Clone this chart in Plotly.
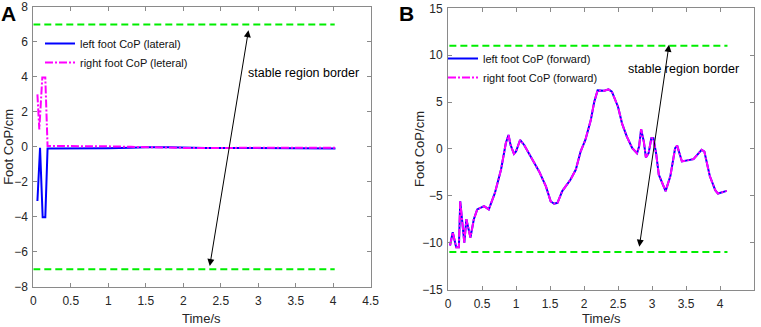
import plotly.graph_objects as go

# ---------------- data ----------------
# Panel A: lateral foot CoP
t_left_lat = [0.055, 0.09, 0.125, 0.16, 0.19, 0.5, 1.0, 1.3, 1.5, 1.8, 2.0, 2.3, 2.6, 3.0, 3.5, 4.03]
left_lat = [-3.1, -0.05, -4.03, -4.03, -0.1, -0.1, -0.08, -0.05, -0.02, -0.02, -0.05, -0.06, -0.06, -0.08, -0.1, -0.1]
t_right_lat = [0.055, 0.08, 0.12, 0.16, 0.19, 0.5, 1.0, 1.3, 1.6, 2.0, 2.5, 3.0, 3.5, 4.03]
right_lat = [3.0, 1.0, 3.97, 3.97, 0.05, 0.05, 0.03, 0.0, -0.04, -0.06, -0.06, -0.05, -0.05, -0.05]
border_a = 7
border_a_t = [0.0, 4.02]

# Panel B: forward foot CoP
t_fwd = [0.03, 0.07, 0.12, 0.16, 0.18, 0.24, 0.27, 0.33, 0.38, 0.43, 0.53, 0.60, 0.69, 0.78,
         0.85, 0.89, 0.92, 0.97, 1.00, 1.06, 1.12, 1.22, 1.34, 1.44, 1.51, 1.56, 1.61, 1.68,
         1.80, 1.88, 1.95, 2.02, 2.10, 2.15, 2.20, 2.30, 2.36, 2.41, 2.50, 2.56, 2.63, 2.71,
         2.78, 2.81, 2.84, 2.88, 2.91, 2.95, 2.99, 3.02, 3.06, 3.10, 3.13, 3.20, 3.27, 3.31,
         3.34, 3.37, 3.44, 3.61, 3.73, 3.77, 3.85, 3.93, 3.97, 4.10]
left_fwd = [-10.3, -8.9, -10.5, -10.5, -5.6, -10.0, -7.5, -9.45, -7.5, -6.45, -6.1, -6.45, -4.7, -2.2,
            0.6, 1.48, 0.42, -0.53, -0.28, 0.95, 0.42, -0.8, -2.4, -4.0, -5.6, -5.85, -5.75, -4.5,
            -3.3, -2.2, -0.28, 0.95, 3.07, 5.0, 6.24, 6.2, 6.35, 6.1, 4.5, 2.7, 1.3, 0.07,
            -0.46, 0.25, 2.1, 0.77, -0.9, -0.46, 1.13, 1.13, -0.46, -2.75, -3.3, -4.5, -2.9, -1.2,
            0.07, 0.35, -1.34, -1.09, -0.1, -0.28, -2.9, -4.4, -4.76, -4.48]
right_fwd = [-10.3, -8.9, -10.5, -10.5, -5.6, -10.0, -7.5, -9.45, -7.5, -6.45, -6.1, -6.45, -4.7, -2.2,
             0.6, 1.48, 0.42, -0.53, -0.28, 0.95, 0.42, -0.8, -2.4, -4.0, -5.6, -5.85, -5.75, -4.5,
             -3.3, -2.2, -0.28, 0.95, 3.07, 5.0, 6.24, 6.2, 6.35, 6.1, 4.5, 2.7, 1.3, 0.07,
             -0.46, 0.25, 2.1, 0.77, -0.9, -0.46, 1.13, 1.13, -0.46, -2.75, -3.3, -4.5, -2.9, -1.2,
             0.07, 0.35, -1.34, -1.09, -0.1, -0.28, -2.9, -4.4, -4.76, -4.48]
border_b = 11
border_b_t = [0.02, 4.11]

x_ticks = [0, 0.5, 1, 1.5, 2, 2.5, 3, 3.5, 4, 4.5]
x_ticktext = ["0", "0.5", "1", "1.5", "2", "2.5", "3", "3.5", "4", "4.5"]
y_ticks_a = [-8, -6, -4, -2, 0, 2, 4, 6, 8]
y_ticks_b = [-15, -10, -5, 0, 5, 10, 15]

# arrows (tip positions, data units)
arrow_a = dict(top=(2.87, 6.67), bottom=(2.35, -6.9), label=(3.61, 4.2))
arrow_b = dict(top=(3.25, 11.1), bottom=(2.81, -10.6), label=(3.46, 8.5))

# ---------------- figure ----------------
W, H = 761, 327
BLUE = "#0000ff"
MAG = "#ff00ff"
GREEN = "#00ee00"
AXC = "#8a8a8a"
FONT = "Arial, Liberation Sans, sans-serif"
DASHDOT = "8px,2px,2px,2px"

fig = go.Figure()

# Panel A
fig.add_trace(go.Scatter(x=border_a_t, y=[border_a] * 2, mode="lines", showlegend=False,
                         line=dict(color=GREEN, width=2, dash="7px,4px"), xaxis="x", yaxis="y"))
fig.add_trace(go.Scatter(x=border_a_t, y=[-border_a] * 2, mode="lines", showlegend=False,
                         line=dict(color=GREEN, width=2, dash="7px,4px"), xaxis="x", yaxis="y"))
fig.add_trace(go.Scatter(x=t_left_lat, y=left_lat, mode="lines", name="left foot CoP (lateral)",
                         line=dict(color=BLUE, width=2), xaxis="x", yaxis="y", legend="legend"))
fig.add_trace(go.Scatter(x=t_right_lat, y=right_lat, mode="lines", name="right foot CoP (leteral)",
                         line=dict(color=MAG, width=2, dash=DASHDOT), xaxis="x", yaxis="y",
                         legend="legend"))

# Panel B
fig.add_trace(go.Scatter(x=border_b_t, y=[border_b] * 2, mode="lines", showlegend=False,
                         line=dict(color=GREEN, width=2, dash="7px,4px"), xaxis="x2", yaxis="y2"))
fig.add_trace(go.Scatter(x=border_b_t, y=[-border_b] * 2, mode="lines", showlegend=False,
                         line=dict(color=GREEN, width=2, dash="7px,4px"), xaxis="x2", yaxis="y2"))
fig.add_trace(go.Scatter(x=t_fwd, y=left_fwd, mode="lines", name="left foot CoP (forward)",
                         line=dict(color=BLUE, width=2), xaxis="x2", yaxis="y2", legend="legend2"))
fig.add_trace(go.Scatter(x=t_fwd, y=right_fwd, mode="lines", name="right foot CoP (forward)",
                         line=dict(color=MAG, width=2, dash=DASHDOT), xaxis="x2", yaxis="y2",
                         legend="legend2"))

axis_common = dict(showline=True, mirror="ticks", linecolor=AXC, linewidth=1, ticks="inside",
                   ticklen=4, tickcolor=AXC, showgrid=False, zeroline=False, automargin=False,
                   tickfont=dict(family=FONT, size=12, color="#262626"))

dom_ax = [33.3 / W, 370.7 / W]
dom_ay = [(H - 286.7) / H, (H - 7) / H]
dom_bx = [448 / W, 754 / W]
dom_by = [(H - 289.5) / H, (H - 8.3) / H]

legend_common = dict(xanchor="left", yanchor="top", bgcolor="rgba(0,0,0,0)",
                     font=dict(family=FONT, size=11, color="#111"), tracegroupgap=0, itemwidth=30)

fig.update_layout(
    width=W, height=H,
    margin=dict(l=0, r=0, t=0, b=0, autoexpand=False),
    paper_bgcolor="white", plot_bgcolor="white",
    font=dict(family=FONT, color="#000000"),
    xaxis=dict(domain=dom_ax, range=[0, 4.5], tickvals=x_ticks, ticktext=x_ticktext,
               anchor="y", ticklabelstandoff=3, **axis_common),
    yaxis=dict(domain=dom_ay, range=[-8, 8], tickvals=y_ticks_a, anchor="x",
               ticklabelstandoff=2, **axis_common),
    xaxis2=dict(domain=dom_bx, range=[0, 4.5], tickvals=x_ticks, ticktext=x_ticktext,
                anchor="y2", ticklabelstandoff=3, **axis_common),
    yaxis2=dict(domain=dom_by, range=[-15, 15], tickvals=y_ticks_b, anchor="x2",
                ticklabelstandoff=2, **axis_common),
    legend=dict(x=40 / W, y=1 - 29 / H, **legend_common),
    legend2=dict(x=443 / W, y=1 - 44 / H, **legend_common),
)

ann = []
for arr, xr, yr in [(arrow_a, "x", "y"), (arrow_b, "x2", "y2")]:
    (tx, ty), (bx, by) = arr["top"], arr["bottom"]
    ann.append(dict(x=tx, y=ty, ax=bx, ay=by, xref=xr, yref=yr, axref=xr, ayref=yr,
                    text="", showarrow=True, arrowhead=2, startarrowhead=2, arrowside="end+start",
                    arrowsize=1.4, startarrowsize=1.4, arrowwidth=1, arrowcolor="#000000"))
    lx, ly = arr["label"]
    ann.append(dict(x=lx, y=ly, xref=xr, yref=yr, text="stable region border", showarrow=False,
                    font=dict(family=FONT, size=12.5, color="#000000"), xanchor="center", yanchor="middle"))

# axis titles
for dom in (dom_ax, dom_bx):
    ann.append(dict(x=(dom[0] + dom[1]) / 2, y=(H - 318) / H, xref="paper", yref="paper",
                    text="Time/s", showarrow=False, xanchor="center", yanchor="middle",
                    font=dict(family=FONT, size=13, color="#262626")))
ann.append(dict(x=9 / W, y=(dom_ay[0] + dom_ay[1]) / 2, xref="paper", yref="paper", text="Foot CoP/cm",
                showarrow=False, textangle=-90, xanchor="center", yanchor="middle",
                font=dict(family=FONT, size=13, color="#262626")))
ann.append(dict(x=420 / W, y=(dom_by[0] + dom_by[1]) / 2, xref="paper", yref="paper", text="Foot CoP/cm",
                showarrow=False, textangle=-90, xanchor="center", yanchor="middle",
                font=dict(family=FONT, size=13, color="#262626")))
# panel labels
ann.append(dict(x=8.5 / W, y=1 - 13 / H, xref="paper", yref="paper", text="<b>A</b>", showarrow=False,
                xanchor="center", yanchor="middle", font=dict(family=FONT, size=21, color="#000")))
ann.append(dict(x=406 / W, y=1 - 13 / H, xref="paper", yref="paper", text="<b>B</b>", showarrow=False,
                xanchor="center", yanchor="middle", font=dict(family=FONT, size=21, color="#000")))

fig.update_layout(annotations=ann)
fig.write_html("out.html", config={"displayModeBar": False},
               post_script="document.body.style.margin='0';document.body.style.padding='0';"
                           "document.body.style.overflow='hidden';")
